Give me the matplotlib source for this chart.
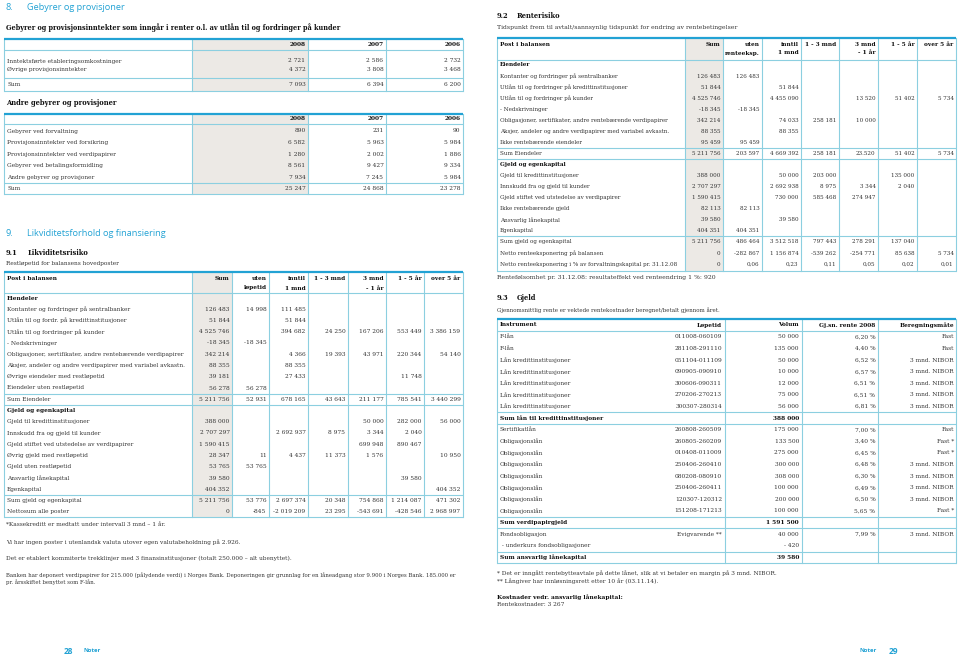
import matplotlib
matplotlib.use('Agg')
import matplotlib.pyplot as plt
from matplotlib.patches import Rectangle

# ---------------- data ----------------
t1_years = ['2008', '2007', '2006']
t1_labels = ['Inntektsførte etableringsomkostninger', 'Øvrige provisjonsinntekter', 'Sum']
t1_values = [['2 721', '2 586', '2 732'],
             ['4 372', '3 808', '3 468'],
             ['7 093', '6 394', '6 200']]

t2_labels = ['Gebyrer ved forvaltning', 'Provisjonsinntekter ved forsikring',
             'Provisjonsinntekter ved verdipapirer', 'Gebyrer ved betalingsformidling',
             'Andre gebyrer og provisjoner', 'Sum']
t2_values = [['890', '231', '90'],
             ['6 582', '5 963', '5 984'],
             ['1 280', '2 002', '1 886'],
             ['8 561', '9 427', '9 334'],
             ['7 934', '7 245', '5 984'],
             ['25 247', '24 868', '23 278']]

t3_headers = ['Sum', 'uten\nløpetid', 'inntil\n1 mnd', '1 - 3 mnd', '3 mnd\n- 1 år', '1 - 5 år', 'over 5 år']
t3_kinds = ['sec', 'row', 'row', 'row', 'row', 'row', 'row', 'row', 'row', 'sum',
            'sec', 'row', 'row', 'row', 'row', 'row', 'row', 'row', 'sum', 'net']
t3_labels = ['Eiendeler',
             'Kontanter og fordringer på sentralbanker',
             'Utlån til og fordr. på kredittinstitusjoner',
             'Utlån til og fordringer på kunder',
             '- Nedskrivninger',
             'Obligasjoner, sertifikater, andre rentebærende verdipapirer',
             'Aksjer, andeler og andre verdipapirer med variabel avkastn.',
             'Øvrige eiendeler med restløpetid',
             'Eiendeler uten restløpetid',
             'Sum Eiendeler',
             'Gjeld og egenkapital',
             'Gjeld til kredittinstitusjoner',
             'Innskudd fra og gjeld til kunder',
             'Gjeld stiftet ved utstedelse av verdipapirer',
             'Øvrig gjeld med restløpetid',
             'Gjeld uten restløpetid',
             'Ansvarlig lånekapital',
             'Egenkapital',
             'Sum gjeld og egenkapital',
             'Nettosum alle poster']
t3_values = [[],
             ['126 483', '14 998', '111 485', '', '', '', ''],
             ['51 844', '', '51 844', '', '', '', ''],
             ['4 525 746', '', '394 682', '24 250', '167 206', '553 449', '3 386 159'],
             ['-18 345', '-18 345', '', '', '', '', ''],
             ['342 214', '', '4 366', '19 393', '43 971', '220 344', '54 140'],
             ['88 355', '', '88 355', '', '', '', ''],
             ['39 181', '', '27 433', '', '', '11 748', ''],
             ['56 278', '56 278', '', '', '', '', ''],
             ['5 211 756', '52 931', '678 165', '43 643', '211 177', '785 541', '3 440 299'],
             [],
             ['388 000', '', '', '', '50 000', '282 000', '56 000'],
             ['2 707 297', '', '2 692 937', '8 975', '3 344', '2 040', ''],
             ['1 590 415', '', '', '', '699 948', '890 467', ''],
             ['28 347', '11', '4 437', '11 373', '1 576', '', '10 950'],
             ['53 765', '53 765', '', '', '', '', ''],
             ['39 580', '', '', '', '', '39 580', ''],
             ['404 352', '', '', '', '', '', '404 352'],
             ['5 211 756', '53 776', '2 697 374', '20 348', '754 868', '1 214 087', '471 302'],
             ['0', '-845', '-2 019 209', '23 295', '-543 691', '-428 546', '2 968 997']]

t4_headers = ['Sum', 'uten\nrenteeksp.', 'inntil\n1 mnd', '1 - 3 mnd', '3 mnd\n- 1 år', '1 - 5 år', 'over 5 år']
t4_kinds = ['sec', 'row', 'row', 'row', 'row', 'row', 'row', 'row', 'sum',
            'sec', 'row', 'row', 'row', 'row', 'row', 'row', 'sum', 'net', 'net']
t4_labels = ['Eiendeler',
             'Kontanter og fordringer på sentralbanker',
             'Utlån til og fordringer på kredittinstitusjoner',
             'Utlån til og fordringer på kunder',
             '- Nedskrivninger',
             'Obligasjoner, sertifikater, andre rentebærende verdipapirer',
             'Aksjer, andeler og andre verdipapirer med variabel avkastn.',
             'Ikke rentebærende eiendeler',
             'Sum Eiendeler',
             'Gjeld og egenkapital',
             'Gjeld til kredittinstitusjoner',
             'Innskudd fra og gjeld til kunder',
             'Gjeld stiftet ved utstedelse av verdipapirer',
             'Ikke rentebærende gjeld',
             'Ansvarlig lånekapital',
             'Egenkapital',
             'Sum gjeld og egenkapital',
             'Netto renteeksponering på balansen',
             'Netto renteeksponering i % av forvaltningskapital pr. 31.12.08']
t4_values = [[],
             ['126 483', '126 483', '', '', '', '', ''],
             ['51 844', '', '51 844', '', '', '', ''],
             ['4 525 746', '', '4 455 090', '', '13 520', '51 402', '5 734'],
             ['-18 345', '-18 345', '', '', '', '', ''],
             ['342 214', '', '74 033', '258 181', '10 000', '', ''],
             ['88 355', '', '88 355', '', '', '', ''],
             ['95 459', '95 459', '', '', '', '', ''],
             ['5 211 756', '203 597', '4 669 392', '258 181', '23.520', '51 402', '5 734'],
             [],
             ['388 000', '', '50 000', '203 000', '', '135 000', ''],
             ['2 707 297', '', '2 692 938', '8 975', '3 344', '2 040', ''],
             ['1 590 415', '', '730 000', '585 468', '274 947', '', ''],
             ['82 113', '82 113', '', '', '', '', ''],
             ['39 580', '', '39 580', '', '', '', ''],
             ['404 351', '404 351', '', '', '', '', ''],
             ['5 211 756', '486 464', '3 512 518', '797 443', '278 291', '137 040', ''],
             ['0', '-282 867', '1 156 874', '-539 262', '-254 771', '85 638', '5 734'],
             ['0', '0,06', '0,23', '0,11', '0,05', '0,02', '0,01']]

t5_headers = ['Instrument', 'Løpetid', 'Volum', 'Gj.sn. rente 2008', 'Beregningsmåte']
t5_kinds = ['row'] * 7 + ['sum'] + ['row'] * 8 + ['sum'] + ['row', 'row', 'sum']
t5_instrument = ['F-lån', 'F-lån', 'Lån kredittinstitusjoner', 'Lån kredittinstitusjoner',
                 'Lån kredittinstitusjoner', 'Lån kredittinstitusjoner', 'Lån kredittinstitusjoner',
                 'Sum lån til kredittinstitusjoner',
                 'Sertifikatlån', 'Obligasjonslån', 'Obligasjonslån', 'Obligasjonslån',
                 'Obligasjonslån', 'Obligasjonslån', 'Obligasjonslån', 'Obligasjonslån',
                 'Sum verdipapirgjeld',
                 'Fondsobligasjon', ' - underkurs fondsobligasjoner', 'Sum ansvarlig lånekapital']
t5_lopetid = ['011008-060109', '281108-291110', '051104-011109', '090905-090910', '300606-090311',
              '270206-270213', '300307-280314', '',
              '260808-260509', '260805-260209', '010408-011009', '250406-260410', '080208-080910',
              '250406-260411', '120307-120312', '151208-171213', '',
              'Evigvarende **', '', '']
t5_volum = ['50 000', '135 000', '50 000', '10 000', '12 000', '75 000', '56 000', '388 000',
            '175 000', '133 500', '275 000', '300 000', '308 000', '100 000', '200 000', '100 000',
            '1 591 500', '40 000', '- 420', '39 580']
t5_rente = ['6,20 %', '4,40 %', '6,52 %', '6,57 %', '6,51 %', '6,51 %', '6,81 %', '',
            '7,00 %', '3,40 %', '6,45 %', '6,48 %', '6,30 %', '6,49 %', '6,50 %', '5,65 %', '',
            '7,99 %', '', '']
t5_metode = ['Fast', 'Fast', '3 mnd. NIBOR', '3 mnd. NIBOR', '3 mnd. NIBOR', '3 mnd. NIBOR',
             '3 mnd. NIBOR', '',
             'Fast', 'Fast *', 'Fast *', '3 mnd. NIBOR', '3 mnd. NIBOR', '3 mnd. NIBOR',
             '3 mnd. NIBOR', 'Fast *', '', '3 mnd. NIBOR', '', '']

# ---------------- styling / helpers ----------------
SERIF = 'DejaVu Serif'
SANS = 'Open Sans'
BLUE = '#22a2d4'
LINE = '#8ccfe0'
SHADE = '#ece9e5'
TXT = '#333333'
DARK = '#111111'
FS = 4.2
HS = 4.85

fig = plt.figure(figsize=(9.6, 6.55), dpi=100)
ax = fig.add_axes([0, 0, 1, 1])
ax.set_xlim(0, 960)
ax.set_ylim(655, 0)
ax.axis('off')


def t(x, y, s, ha='left', size=FS, bold=False, color=TXT, family=SERIF):
    ax.text(x, y, s, ha=ha, va='center', fontsize=size,
            fontweight='bold' if bold else 'normal', color=color, family=family)


def hline(y, x0, x1, thick=False):
    ax.plot([x0, x1], [y, y], color=BLUE if thick else LINE,
            lw=1.6 if thick else 0.8, solid_capstyle='butt', zorder=3)


def vline(x, y0, y1):
    ax.plot([x, x], [y0, y1], color=LINE, lw=0.8, zorder=2)


def frame(edges, shade, top, header_bottom, bottom):
    ax.add_patch(Rectangle((shade[0], top), shade[1] - shade[0], bottom - top,
                           facecolor=SHADE, edgecolor='none', zorder=1))
    for x in edges:
        vline(x, top, bottom)
    hline(header_bottom, edges[0], edges[-1])
    hline(bottom, edges[0], edges[-1])
    hline(top, edges[0], edges[-1], thick=True)


def headers(edges, labels, y1, dy, first_label=None):
    if first_label:
        t(edges[0] + 3, y1, first_label, bold=True, color=DARK)
    for i, h in enumerate(labels):
        for j, part in enumerate(h.split('\n')):
            t(edges[i + 2] - 2.5, y1 + j * dy, part, ha='right', bold=True, color=DARK)


def body(edges, kinds, labels, values, y0, step, size=FS):
    for i, (k, lab, vals) in enumerate(zip(kinds, labels, values)):
        y = y0 + i * step
        if k == 'sec':
            t(edges[0] + 3, y, lab, bold=True, color=DARK, size=size)
            if i > 0:
                hline(y - step / 2, edges[0], edges[-1])
            continue
        t(edges[0] + 3, y, lab, size=size)
        for j, v in enumerate(vals):
            if v:
                t(edges[j + 2] - 2.5, y, v, ha='right', size=size)
        if k == 'sum':
            hline(y - step / 2, edges[0], edges[-1])


# ---------------- left page ----------------
t(6, 7, '8.', size=6.6, color=BLUE, family=SANS)
t(27, 7, 'Gebyrer og provisjoner', size=6.6, color=BLUE, family=SANS)
t(6, 28, 'Gebyrer og provisjonsinntekter som inngår i renter o.l. av utlån til og fordringer på kunder',
  size=4.7, bold=True, color=DARK)

e1 = [4, 192, 308, 386, 463]
frame(e1, (192, 308), 39, 50, 91)
for i, yr in enumerate(t1_years):
    t(e1[i + 2] - 2.5, 45, yr, ha='right', bold=True, color=DARK)
t1_y = [61, 69.5, 85]
hline(77.5, e1[0], e1[-1])
for lab, vals, y in zip(t1_labels, t1_values, t1_y):
    t(e1[0] + 3, y, lab)
    for j, v in enumerate(vals):
        t(e1[j + 2] - 2.5, y, v, ha='right')

t(6, 103, 'Andre gebyrer og provisjoner', size=HS, bold=True, color=DARK)
frame(e1, (192, 308), 114, 124, 194)
for i, yr in enumerate(t1_years):
    t(e1[i + 2] - 2.5, 119, yr, ha='right', bold=True, color=DARK)
t2_kinds = ['row'] * 5 + ['sum']
body(e1, t2_kinds, t2_labels, t2_values, 131, 11.6)

t(6, 233, '9.', size=6.6, color=BLUE, family=SANS)
t(27, 233, 'Likviditetsforhold og finansiering', size=6.6, color=BLUE, family=SANS)
t(6, 253, '9.1', size=HS, bold=True, color=DARK)
t(28, 253, 'Likviditetsrisiko', size=HS, bold=True, color=DARK)
t(6, 263, 'Restløpetid for balansens hovedposter')

e3 = [4, 192, 232, 269, 308, 348, 386, 424, 463]
frame(e3, (192, 232), 272, 293, 517)
headers(e3, t3_headers, 279, 9, 'Post i balansen')
body(e3, t3_kinds, t3_labels, t3_values, 298, 11.25)

t(6, 525, '*Kassekreditt er medtatt under intervall 3 mnd – 1 år.')
t(6, 542, 'Vi har ingen poster i utenlandsk valuta utover egen valutabeholdning på 2.926.')
t(6, 558, 'Det er etablert kommiterte trekklinjer med 3 finansinstitusjoner (totalt 250.000 – alt ubenyttet).')
t(6, 575, 'Banken har deponert verdipapirer for 215.000 (pålydende verdi) i Norges Bank. '
          'Deponeringen gir grunnlag for en låneadgang stor 9.900 i Norges Bank. 185.000 er', size=3.87)
t(6, 582, 'pr. årsskiftet benyttet som F-lån.', size=3.87)

t(64, 651, '28', size=6, bold=True, color=BLUE, family=SANS)
t(84, 651, 'Noter', size=4.3, bold=True, color=BLUE, family=SANS)

# ---------------- right page ----------------
t(497, 16, '9.2', size=HS, bold=True, color=DARK)
t(517, 16, 'Renterisiko', size=HS, bold=True, color=DARK)
t(497, 28, 'Tidspunkt frem til avtalt/sannsynlig tidspunkt for endring av rentebetingelser', size=4.4)

e4 = [497, 685, 723, 762, 801, 839, 878, 917, 956]
frame(e4, (685, 723), 38, 60, 271)
headers(e4, t4_headers, 44, 9, 'Post i balansen')
body(e4, t4_kinds, t4_labels, t4_values, 65, 11.06, size=4.08)

t(497, 277, 'Rentefølsomhet pr. 31.12.08: resultateffekt ved renteendring 1 %: 920', size=4.4)

t(497, 298, '9.3', size=HS, bold=True, color=DARK)
t(517, 298, 'Gjeld', size=HS, bold=True, color=DARK)
t(497, 310, 'Gjennomsnittlig rente er vektede rentekostnader beregnet/betalt gjennom året.', size=4.0)

e5 = [497, 725, 802, 878, 956]
top5, hb5, step5, y05 = 319, 331, 11.6, 337
bottom5 = y05 + (len(t5_kinds) - 1) * step5 + step5 / 2
for x in e5:
    vline(x, top5, bottom5)
hline(hb5, e5[0], e5[-1])
hline(bottom5, e5[0], e5[-1])
hline(top5, e5[0], e5[-1], thick=True)
hx = [e5[0] + 3, e5[1] - 3, e5[2] - 3, e5[3] - 2.5, e5[4] - 2]
t(hx[0], 325, t5_headers[0], bold=True, color=DARK)
for i in range(1, 5):
    t(hx[i], 325, t5_headers[i], ha='right', bold=True, color=DARK)
for i, k in enumerate(t5_kinds):
    y = y05 + i * step5
    if k == 'sum':
        hline(y - step5 / 2, e5[0], e5[-1])
        if i < len(t5_kinds) - 1:
            hline(y + step5 / 2, e5[0], e5[-1])
        t(hx[0], y, t5_instrument[i], bold=True, color=DARK)
        t(hx[2], y, t5_volum[i], ha='right', bold=True, color=DARK)
        continue
    t(hx[0], y, t5_instrument[i])
    t(hx[1], y, t5_lopetid[i], ha='right')
    t(hx[2], y, t5_volum[i], ha='right')
    t(hx[3], y, t5_rente[i], ha='right')
    t(hx[4], y, t5_metode[i], ha='right')

t(497, 573, '* Det er inngått rentebytteavtale på dette lånet, slik at vi betaler en margin på 3 mnd. NIBOR.')
t(497, 581, '** Långiver har innløsningsrett etter 10 år (03.11.14).')
t(497, 597, 'Kostnader vedr. ansvarlig lånekapital:', bold=True, color=DARK)
t(497, 605, 'Rentekostnader: 3 267')

t(860, 651, 'Noter', size=4.3, bold=True, color=BLUE, family=SANS)
t(889, 651, '29', size=6, bold=True, color=BLUE, family=SANS)

fig.savefig('out.png', dpi=100, facecolor='white')
